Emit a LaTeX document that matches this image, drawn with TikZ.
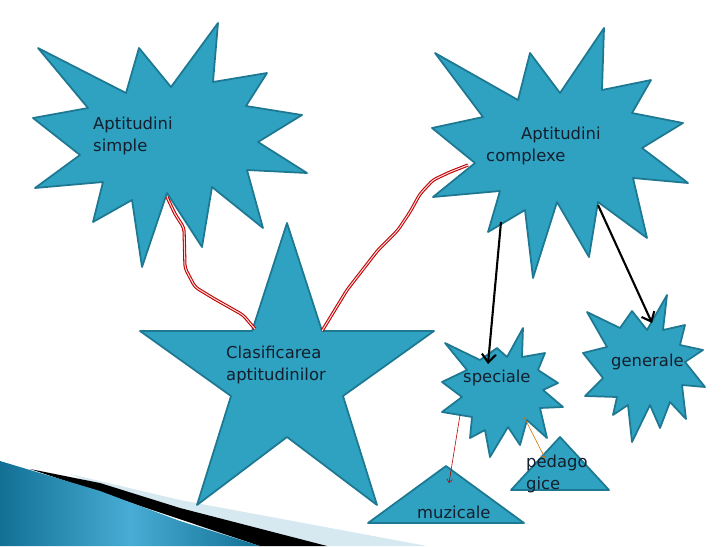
\documentclass[tikz,border=0pt]{standalone}
\usepackage{fontspec}
\setmainfont{DejaVu Sans}
\usepackage{tikz}
\usetikzlibrary{arrows.meta}
\definecolor{burstfill}{RGB}{46,162,192}
\definecolor{burstedge}{RGB}{30,120,146}
\definecolor{txtdark}{RGB}{20,30,45}
\definecolor{bandlight}{RGB}{214,232,240}
\definecolor{banddark}{RGB}{18,112,148}
\definecolor{bandmid}{RGB}{72,172,212}
\tikzstyle{burst} = [fill=burstfill, draw=burstedge, line width=1.5pt, line join=round]
\tikzstyle{txt} = [inner sep=0pt, anchor=base west, align=left, text=txtdark, font=\fontsize{14}{18.5}\selectfont]
\tikzstyle{redline} = [draw=red!75!black, double=red!15!white, double distance=0.9pt, line width=0.9pt, rounded corners=3pt]
\tikzstyle{bigarrow} = [line width=1.8pt, -{Straight Barb[length=7pt,width=12pt]}]
\tikzstyle{thinarrow} = [line width=0.5pt, -{Straight Barb[length=3pt,width=5pt]}]

\begin{document}
\begin{tikzpicture}[x=0.03cm, y=-0.03cm]
\useasboundingbox (0,0) rectangle (728,546);

% bottom left band
\fill[bandlight] (70,474) -- (180,500) -- (427,546) -- (250,546) -- cycle;
\fill[black] (30,469) -- (100,483) -- (180,508) -- (327,546) -- (260,546) -- cycle;
\shade[left color=banddark, right color=banddark, middle color=bandmid] (0,461) -- (100,491) -- (180,521) -- (260,546) -- (0,546) -- cycle;

% Aptitudini simple
\draw[burst] (38,48) -- (126,93) -- (139,48) -- (171,87) -- (218,23) -- (213,82) -- (267,73) -- (246,106) -- (302,115) -- (258,142) -- (307,173) -- (247,170) -- (263,228) -- (212,187) -- (202,247) -- (167,193) -- (142,267) -- (132,200) -- (93,222) -- (103,182) -- (35,188) -- (80,155) -- (33,118) -- (88,108) -- cycle;
\node[txt] (simple) at (93,151) {Aptitudini\\simple};

% Aptitudini complexe
\draw[burst] (435,53) -- (518,100) -- (530,53) -- (560,93) -- (604,28) -- (602,90) -- (651,80) -- (632,113) -- (683,123) -- (642,148) -- (688,183) -- (633,178) -- (647,238) -- (598,202) -- (589,257) -- (557,202) -- (533,278) -- (525,210) -- (488,232) -- (500,191) -- (433,197) -- (475,163) -- (432,128) -- (483,117) -- cycle;
\node[txt] (complexe) at (486,161) {\hspace*{1.05cm}Aptitudini\\complexe};

% Clasificarea (star)
\draw[burst] (287,223) -- (322,331) -- (434,331) -- (343,396) -- (377,505) -- (287,437) -- (197,505) -- (231,396) -- (140,331) -- (252,331) -- cycle;
\node[txt] (clasif) at (226,380) {Clasificarea\\aptitudinilor};

% speciale
\draw[burst] (445,343) -- (480,360) -- (497,348) -- (507,357) -- (523,328) -- (522,357) -- (545,353) -- (538,370) -- (558,383) -- (543,390) -- (563,407) -- (540,408) -- (547,438) -- (527,420) -- (520,445) -- (508,427) -- (490,457) -- (485,430) -- (470,438) -- (472,417) -- (442,412) -- (462,397) -- (442,382) -- (467,370) -- cycle;
\node[txt] (speciale) at (463,382) {speciale};

% generale
\draw[burst] (587,312) -- (620,328) -- (632,311) -- (647,330) -- (667,295) -- (663,330) -- (685,325) -- (680,345) -- (703,350) -- (685,362) -- (705,387) -- (682,385) -- (686,419) -- (670,402) -- (660,428) -- (650,405) -- (632,442) -- (628,405) -- (613,415) -- (617,397) -- (585,396) -- (603,378) -- (583,353) -- (607,347) -- cycle;
\node[txt] (generale) at (611,366) {generale};

% muzicale, pedagogice
\draw[burst] (368,523) -- (446,466) -- (524,523) -- cycle;
\node[txt] (muzicale) at (417,518) {muzicale};
\draw[burst] (511,490) -- (560,437) -- (609,490) -- cycle;
\node[txt] (pedago) at (526,489) {pedago\\gice};

% connector ends
\coordinate (simple-s) at (167,197);
\coordinate (clasif-nw) at (255,329);
\coordinate (clasif-ne) at (322,331);
\coordinate (complexe-w) at (468,165);
\coordinate (complexe-s) at (501,222);
\coordinate (complexe-se) at (598,205);
\coordinate (speciale-n) at (488,364);
\coordinate (generale-n) at (652,323);
\coordinate (speciale-sw) at (460,415);
\coordinate (speciale-se) at (523,415);
\coordinate (muzicale-n) at (449,483);
\coordinate (pedago-n) at (545,458);

% red links
\draw[redline] (simple-s) -- (175,214) -- (184,228) -- (185,268) -- (195,287) -- (213,298) -- (243,315) -- (clasif-nw);
\draw[redline] (clasif-ne) -- (347,290) -- (378,250) -- (398,230) -- (410,212) -- (420,194) -- (433,180) -- (450,172) -- (complexe-w);

% arrows
\draw[bigarrow] (complexe-s) -- (speciale-n);
\draw[bigarrow] (complexe-se) -- (generale-n);
\draw[thinarrow, red!70!black] (speciale-sw) -- (muzicale-n);
\draw[thinarrow, orange!85!black] (speciale-se) -- (pedago-n);
\end{tikzpicture}
\end{document}
